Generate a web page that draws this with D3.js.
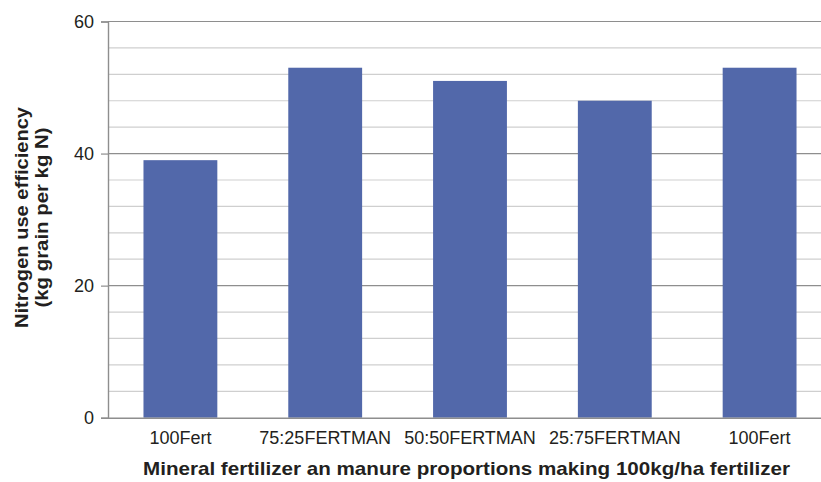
<!DOCTYPE html>
<html>
<head>
<meta charset="utf-8">
<script src="https://cdn.jsdelivr.net/npm/d3@7"></script>
<style>
  html, body { margin: 0; padding: 0; background: #fff; }
  svg { display: block; font-family: "Liberation Sans", Arial, sans-serif; }
</style>
</head>
<body>
<svg id="chart" width="821" height="482"></svg>
<script>
// Nitrogen use efficiency by fertilizer treatment
const categories = ["100Fert", "75:25FERTMAN", "50:50FERTMAN", "25:75FERTMAN", "100Fert "];
const efficiency = [39, 53, 51, 48, 53];
const yTicks = [0, 20, 40, 60];
const yMinorTicks = [4, 8, 12, 16, 24, 28, 32, 36, 44, 48, 52, 56];

const svg = d3.select("#chart");
const plotLeft = 108, plotRight = 832, plotTop = 21.5, plotBottom = 417.7;
const textColor = "#231f20";
const fontFamily = "'Liberation Sans', Arial, sans-serif";

const x = d3.scaleBand().domain(categories).range([plotLeft, plotRight]).paddingInner(0.49).paddingOuter(0.245);
const y = d3.scaleLinear().domain([0, 60]).range([plotBottom, plotTop]);

// minor gridlines
svg.append("g").selectAll("line").data(yMinorTicks).join("line")
  .attr("x1", plotLeft).attr("x2", plotRight)
  .attr("y1", d => y(d)).attr("y2", d => y(d))
  .attr("stroke", "#cfcfcf").attr("stroke-width", 1.2);

// major gridlines
svg.append("g").selectAll("line").data(yTicks.filter(d => d > 0)).join("line")
  .attr("x1", plotLeft).attr("x2", plotRight)
  .attr("y1", d => y(d)).attr("y2", d => y(d))
  .attr("stroke", "#8e8e8e").attr("stroke-width", 1.2);

// bars
svg.append("g").selectAll("rect").data(efficiency).join("rect")
  .attr("x", (d, i) => x(categories[i]))
  .attr("width", x.bandwidth())
  .attr("y", d => y(d))
  .attr("height", d => y(0) - y(d))
  .attr("fill", "#5268aa");

// y axis
const yAxis = svg.append("g").attr("transform", `translate(${plotLeft},0)`)
  .call(d3.axisLeft(y).tickValues(yTicks).tickSize(7).tickPadding(7));
yAxis.select(".domain").attr("stroke", "#8e8e8e").attr("stroke-width", 1.4);
yAxis.selectAll(".tick line").attr("stroke", "#8e8e8e").attr("stroke-width", 1.2);
yAxis.selectAll(".tick text").attr("fill", textColor).attr("font-size", 18)
  .attr("font-family", fontFamily);

// x axis
const xAxis = svg.append("g").attr("transform", `translate(0,${plotBottom})`)
  .call(d3.axisBottom(x).tickSize(0).tickPadding(13.5));
xAxis.select(".domain").attr("stroke", "#8e8e8e").attr("stroke-width", 1.4);
xAxis.selectAll(".tick text").attr("fill", textColor).attr("font-size", 18)
  .attr("font-family", fontFamily);

// axis titles
svg.append("text")
  .attr("x", 466.5).attr("y", 475)
  .attr("text-anchor", "middle")
  .attr("font-size", 18.5).attr("font-weight", "bold").attr("fill", textColor)
  .attr("font-family", fontFamily)
  .attr("textLength", 647).attr("lengthAdjust", "spacingAndGlyphs")
  .text("Mineral fertilizer an manure proportions making 100kg/ha fertilizer");

const yTitle = svg.append("g").attr("transform", "translate(0,217.5) rotate(-90)");
yTitle.append("text")
  .attr("x", 0).attr("y", 28)
  .attr("text-anchor", "middle")
  .attr("font-size", 18).attr("font-weight", "bold").attr("fill", textColor)
  .attr("font-family", fontFamily)
  .attr("textLength", 221).attr("lengthAdjust", "spacingAndGlyphs")
  .text("Nitrogen use efficiency");
yTitle.append("text")
  .attr("x", 0).attr("y", 48)
  .attr("text-anchor", "middle")
  .attr("font-size", 18).attr("font-weight", "bold").attr("fill", textColor)
  .attr("font-family", fontFamily)
  .attr("textLength", 180).attr("lengthAdjust", "spacingAndGlyphs")
  .text("(kg grain per kg N)");
</script>
</body>
</html>
